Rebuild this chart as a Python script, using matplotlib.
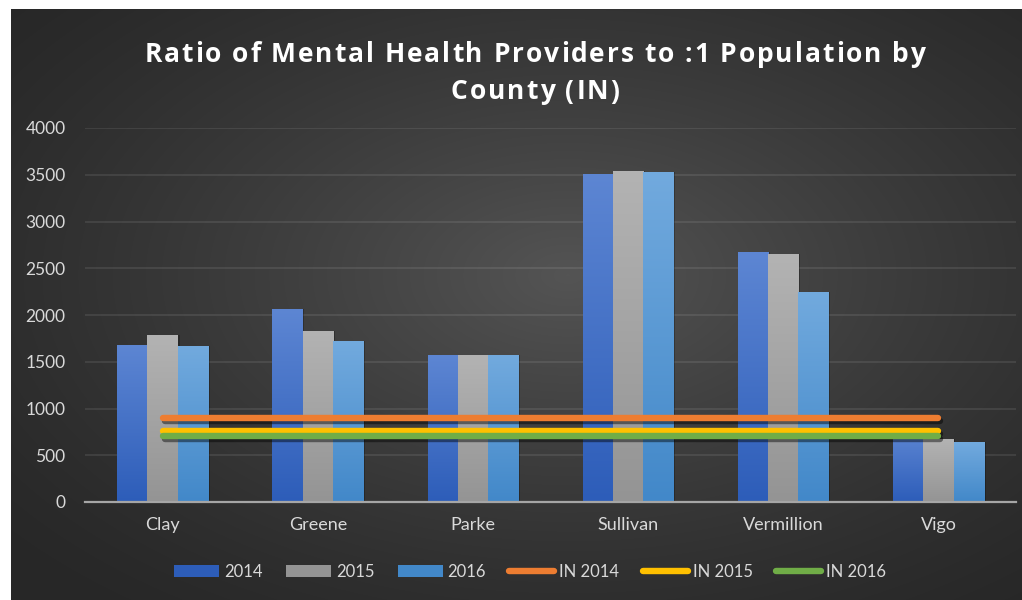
import numpy as np
import matplotlib
matplotlib.use("Agg")
import matplotlib.pyplot as plt
from matplotlib.colors import LinearSegmentedColormap
import matplotlib.patheffects as pe
from matplotlib.patches import Rectangle
from matplotlib.lines import Line2D
from matplotlib.font_manager import FontProperties
from matplotlib.textpath import TextToPath

# ---------------- data ----------------
counties = ['Clay', 'Greene', 'Parke', 'Sullivan', 'Vermillion', 'Vigo']
v2014 = [1680, 2060, 1570, 3510, 2670, 750]
v2015 = [1790, 1830, 1570, 3540, 2650, 670]
v2016 = [1670, 1720, 1570, 3530, 2250, 640]
in2014 = [900, 900, 900, 900, 900, 900]
in2015 = [760, 760, 760, 760, 760, 760]
in2016 = [710, 710, 710, 710, 710, 710]
yticks = [0, 500, 1000, 1500, 2000, 2500, 3000, 3500, 4000]
title_lines = ['Ratio of Mental Health Providers to :1 Population by', 'County (IN)']
bar_labels = ['2014', '2015', '2016']
line_labels = ['IN 2014', 'IN 2015', 'IN 2016']

# ---------------- style ----------------
FONT = ['Lato', 'DejaVu Sans']
plt.rcParams['font.family'] = FONT
W, H = 1022, 600
fig = plt.figure(figsize=(W / 100, H / 100), dpi=100, facecolor='white')

# background radial gradient
bw, bh = 1011, 591
bg = fig.add_axes([11 / W, 0, bw / W, bh / H])
bg.axis('off')
yy, xx = np.mgrid[0:bh, 0:bw]
cx, cy = 0.55 * bw, 0.45 * bh
r = np.sqrt(((xx - cx) / bw) ** 2 + ((yy - cy) / bh) ** 2) / 0.72
r = np.clip(r, 0, 1)
c_center, c_edge = 0.33, 0.155
val = c_edge + (c_center - c_edge) * (1 - r) ** 1.3
img = np.dstack([val, val, val])
bg.imshow(img, aspect='auto', extent=[0, 1, 0, 1], interpolation='bilinear')
bg.set_xlim(0, 1)
bg.set_ylim(0, 1)

# main axes
ax = fig.add_axes([85 / W, 98 / H, 931 / W, 374 / H])
ax.patch.set_alpha(0)

x = np.arange(len(counties))
bw_ = 0.195
series = [v2014, v2015, v2016]
grads = [('#5d86d3', '#2d5db9'), ('#b3b3b3', '#949494'), ('#72aade', '#4288c9')]
for i, (vals, (ctop, cbot)) in enumerate(zip(series, grads)):
    cmap = LinearSegmentedColormap.from_list('g%d' % i, [cbot, ctop])
    bars = ax.bar(x + (i - 1) * bw_, vals, width=bw_, color=cbot, zorder=3,
                  linewidth=0)
    for b in bars:
        bx, by = b.get_x(), b.get_y()
        w, h = b.get_width(), b.get_height()
        sh = Rectangle((bx + 0.012, by), w, h, facecolor='black', alpha=0.25,
                       zorder=2.5, linewidth=0)
        ax.add_patch(sh)
        grad = np.linspace(0, 1, 256).reshape(-1, 1)
        im = ax.imshow(grad, extent=[bx, bx + w, by, by + h], origin='lower',
                       aspect='auto', cmap=cmap, zorder=3.1)
        im.set_clip_path(b)

line_colors = ['#ed7d31', '#ffc000', '#70ad47']
for vals, col in zip([in2014, in2015, in2016], line_colors):
    ax.plot(x, vals, color=col, lw=4.6, solid_capstyle='round', zorder=5,
            path_effects=[pe.SimpleLineShadow(offset=(1.5, -2.5), shadow_color='black', alpha=0.45),
                          pe.Normal()])

ax.set_xlim(-0.5, len(counties) - 0.5)
ax.set_ylim(0, 4000)
ax.set_yticks(yticks)
ax.set_yticklabels([str(t) for t in yticks])
ax.set_xticks(x)
ax.set_xticklabels(counties)
ax.tick_params(axis='both', length=0, colors='#d9d9d9')
ax.tick_params(axis='y', pad=14, labelsize=12.5)
ax.tick_params(axis='x', pad=11, labelsize=13)
ax.grid(axis='y', color='white', alpha=0.1, lw=1.2, zorder=0)
ax.set_axisbelow(True)
for s in ['top', 'right', 'left']:
    ax.spines[s].set_visible(False)
ax.spines['bottom'].set_color('#a6a6a6')
ax.spines['bottom'].set_linewidth(1.6)
ax.spines['bottom'].set_zorder(6)

# title with letter spacing
tprop = FontProperties(family=['Open Sans', 'DejaVu Sans'], weight='bold', size=19)
t2p = TextToPath()
spacing_px = 1.9


def spaced_text(s, xc_px, yc_px):
    adv = []
    for ch in s:
        wdt, _, _ = t2p.get_text_width_height_descent(ch, tprop, ismath=False)
        adv.append(wdt * 100 / 72.0)  # points -> pixels
    total = sum(adv) + spacing_px * (len(s) - 1)
    xpos = xc_px - total / 2
    for ch, a in zip(s, adv):
        if ch != ' ':
            fig.text(xpos / W, 1 - yc_px / H, ch, ha='left', va='center_baseline',
                     color='white', fontproperties=tprop)
        xpos += a + spacing_px


spaced_text(title_lines[0], 535, 51)
spaced_text(title_lines[1], 535, 88)

# legend
handles = []
for (ctop, cbot), lab in zip(grads, bar_labels):
    handles.append(Rectangle((0, 0), 1, 1, facecolor=cbot, edgecolor='none', label=lab))
for col, lab in zip(line_colors, line_labels):
    handles.append(Line2D([0], [0], color=col, lw=4.6, solid_capstyle='round', label=lab))
leg = fig.legend(handles=handles, loc='center', bbox_to_anchor=(530 / W, 1 - 572 / H),
                 ncol=6, frameon=False, fontsize=12, handlelength=2.7,
                 handleheight=0.75, handletextpad=0.3, columnspacing=1.4)
for t in leg.get_texts():
    t.set_color('#d9d9d9')

fig.savefig('out.png', dpi=100, facecolor=fig.get_facecolor())
